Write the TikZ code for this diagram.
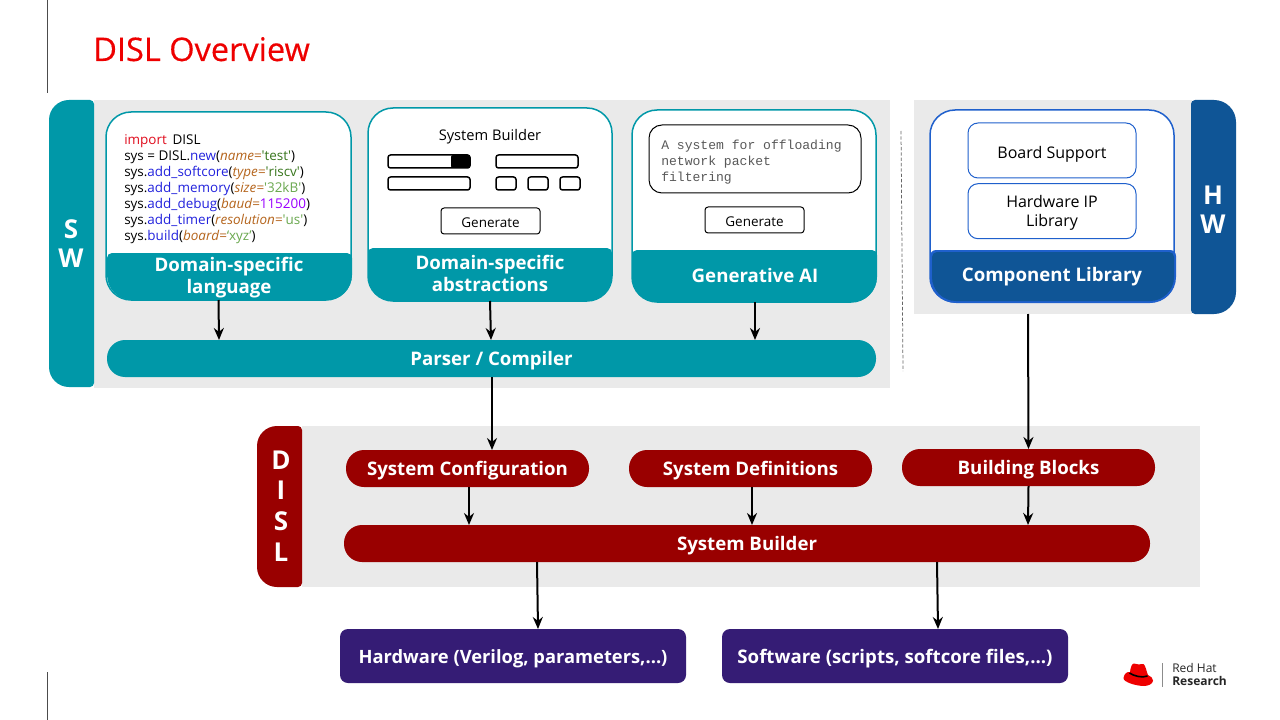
\documentclass[tikz,border=0pt]{standalone}
\usepackage{fontspec}
\setmainfont{Open Sans}
\setmonofont{Liberation Mono}
\newfontfamily\titlefont[FakeBold=0.3]{Open Sans}
\usetikzlibrary{arrows.meta}
\usetikzlibrary{positioning}
\definecolor{rhteal}{HTML}{0098A8}
\definecolor{rhblue}{HTML}{0F5596}
\definecolor{rhline}{HTML}{1F60CC}
\definecolor{rhred}{HTML}{990000}
\definecolor{rhpurple}{HTML}{351C75}
\definecolor{rhgrey}{HTML}{EAEAEA}
\definecolor{rhtitle}{HTML}{EE0000}
\definecolor{cdkey}{HTML}{E00B1C}
\definecolor{cdfun}{HTML}{2222DD}
\definecolor{cdarg}{HTML}{B5651D}
\definecolor{cdstr}{HTML}{38761D}
\definecolor{cdlit}{HTML}{6AA84F}
\definecolor{cdnum}{HTML}{9900FF}
\def\px{0.75pt}
\def\q{\textquotesingle}
\newcommand{\kw}[1]{\textcolor{cdfun}{#1}}
\newcommand{\ar}[2]{\textcolor{cdarg}{\itshape #1=}#2}
% colour, left, right, top, bottom, radius top, radius bottom
\newcommand{\bandshape}[7]{\fill[#1] ({(#2+#3)/2},#4) [rounded corners=#6*\px] -- (#3,#4)
  [rounded corners=#7*\px] -- (#3,#5) -- (#2,#5) [rounded corners=#6*\px] -- (#2,#4) -- cycle;}
\tikzset{
  boxsize/.style args={#1x#2}{minimum width=#1*\px,minimum height=#2*\px},
  base/.style={inner sep=0pt,outer sep=0pt,anchor=north west},
  panel/.style={base,fill=rhgrey},
  card/.style={base,fill=white,draw=rhteal,line width=1.5*\px,rounded corners=25*\px},
  hwcard/.style={card,draw=rhline},
  inner/.style={base,fill=white,draw=rhline,line width=1*\px,rounded corners=10*\px,
    font=\fontsize{12}{14.2}\selectfont,align=center,text depth=0pt},
  pill/.style={base,text=white,font=\fontsize{14}{16}\selectfont\bfseries,rounded corners=18*\px,
    text height=11pt,text depth=0pt},
  head/.style={text=white,inner sep=0pt,align=center,font=\fontsize{14}{16.5}\selectfont\bfseries},
  tabtext/.style={text=white,inner sep=0pt,align=center,font=\fontsize{19.5}{22}\selectfont\bfseries},
  widget/.style={base,fill=white,draw=black,line width=1.5*\px,rounded corners=2.5*\px},
  button/.style={base,fill=white,draw=black,line width=1*\px,rounded corners=3*\px,
    font=\fontsize{10.1}{12}\selectfont,text height=9.2pt,text depth=0pt},
  output/.style={pill,fill=rhpurple,rounded corners=8*\px},
  flow/.style={->,line width=2*\px},
}

\begin{document}
\begin{tikzpicture}[>={Stealth[length=9pt,width=7.5pt]},x=0.75pt,y=-0.75pt,line join=round]
\useasboundingbox (0,0) rectangle (1280,720);
\fill[white] (0,0) rectangle (1280,720);
\draw[black!70,line width=0.75*\px] (47,0) -- (47,93);
\draw[black!70,line width=0.75*\px] (47,672) -- (47,720);
\node[anchor=base west,inner sep=0pt,text=rhtitle,font=\titlefont\fontsize{24.4}{28}\selectfont] (title) at (93,61) {DISL Overview};

% software side
\node[panel,boxsize=796x288] (swpanel) at (94,100) {};
\path[fill=rhteal,rounded corners=20*\px] (94,100) [rounded corners=4*\px] -- (94,387)
  [rounded corners=20*\px] -- (49,387) -- (49,100) [rounded corners=4*\px] -- cycle;
\node[tabtext] (swtab) at (71,243.5) {S\\W};
\draw[dashed,black!60,line width=0.75*\px,dash pattern=on 2.5pt off 1.5pt] (901,131) -- (903,371);

\node[card,boxsize=245x188] (dsl) at (106,112) {};
\node[card,boxsize=244x193] (abs) at (368,108) {};
\node[card,boxsize=244x192] (genai) at (632,110) {};
\bandshape{rhteal}{107}{352}{253}{300}{5}{25}
\bandshape{rhteal}{368}{612}{248}{301}{5}{25}
\bandshape{rhteal}{632}{877}{250}{302}{5}{25}
\node[head] (dslhead) at (229,277.5) {Domain-specific\\language};
\node[head] (abshead) at (490,273.5) {Domain-specific\\abstractions};
\node[head] (genaihead) at (755,275.5) {Generative AI};

\node[anchor=north west,inner sep=0pt,align=left,font=\fontsize{10.1}{12}\selectfont] (code) at (124,134) {%
  \textcolor{cdkey}{import}\, DISL\\
  sys = DISL.\kw{new}(\ar{name}{\textcolor{cdstr}{\q test\q}})\\
  sys.\kw{add\_softcore}(\ar{type}{\textcolor{cdstr}{\q riscv\q}})\\
  sys.\kw{add\_memory}(\ar{size}{\textcolor{cdlit}{\q 32kB\q}})\\
  sys.\kw{add\_debug}(\ar{baud}{\textcolor{cdnum}{115200}})\\
  sys.\kw{add\_timer}(\ar{resolution}{\textcolor{cdlit}{\q us\q}})\\
  sys.\kw{build}(\ar{board}{\textcolor{cdlit}{‘xyz’}})};

\node[inner sep=0pt,font=\fontsize{11}{12}\selectfont] (builder) at (490,136.5) {System Builder};
\node[widget,boxsize=82x13] (slider) at (388,155) {};
\fill[black,rounded corners=2*\px] (451,155) rectangle (470,168);
\node[widget,boxsize=82x13] (field1) at (496,155) {};
\node[widget,boxsize=82x13] (field2) at (388,177) {};
\foreach \n/\xx in {a/496,b/528,c/560}
  \node[widget,boxsize=20x13] (check\n) at (\xx,177) {};
\node[button,boxsize=99x26] (gen1) at (441,208) {Generate};

\node[base,fill=white,draw=black,line width=1*\px,rounded corners=13*\px,boxsize=212x68] (prompt) at (649,125) {};
\node[anchor=north west,inner sep=0pt,align=left,text=black!65,font=\ttfamily\fontsize{9.8}{12}\selectfont] (prompttext) at (661,139.5) {A system for offloading\\network packet\\filtering};
\node[button,boxsize=99x26] (gen2) at (705,207) {Generate};

\node[pill,fill=rhteal,boxsize=769x37] (parser) at (107,340) {Parser / Compiler};

% hardware side
\node[panel,boxsize=278x214] (hwpanel) at (914,100) {};
\path[fill=rhblue,rounded corners=4*\px] (1191,100) [rounded corners=22*\px] -- (1236,100) -- (1236,314)
  [rounded corners=4*\px] -- (1191,314) -- cycle;
\node[tabtext] (hwtab) at (1213,209.5) {H\\W};
\node[hwcard,boxsize=244x192] (hwlib) at (930,110) {};
\bandshape{rhline}{930}{1176}{250}{303}{6}{26}
\bandshape{rhblue}{932}{1174}{252}{301}{5}{24}
\node[head] (hwhead) at (1052,277) {Component Library};
\node[inner,boxsize=168x55,text height=12pt] (board) at (968,123) {Board Support};
\node[inner,boxsize=168x55] (iplib) at (968,183.7) {Hardware IP\\Library};

% DISL side
\node[panel,boxsize=898x161] (dislpanel) at (302,426) {};
\path[fill=rhred,rounded corners=4*\px] (302,426) [rounded corners=4*\px] -- (302,587)
  [rounded corners=20*\px] -- (257,587) -- (257,426) [rounded corners=4*\px] -- cycle;
\node[tabtext,font=\fontsize{19.5}{23}\selectfont\bfseries] (disltab) at (281,506) {D\\I\\S\\L};
\node[pill,fill=rhred,boxsize=243x37] (config) at (346,450) {System Configuration};
\node[pill,fill=rhred,boxsize=243x37] (defs) at (629,450) {System Definitions};
\node[pill,fill=rhred,boxsize=253x37] (blocks) at (902,449) {Building Blocks};
\node[pill,fill=rhred,boxsize=806x37] (sysb) at (344,525) {System Builder};

\node[output,boxsize=346x54,font=\fontsize{13.75}{16}\selectfont\bfseries] (hwout) at (340,629) {Hardware (Verilog, parameters,...)};
\node[output,boxsize=346x54] (swout) at (722,629) {Software (scripts, softcore files,...)};

% connectors
\draw[flow] ([xshift=-10*\px]dsl.south) -- ([xshift=-272.5*\px]parser.north);
\draw[flow] (abs.south) -- ([xshift=-0.5*\px]parser.north);
\draw[flow] ([xshift=1*\px]genai.south) -- ([xshift=263.5*\px]parser.north);
\draw[flow] ([xshift=0.5*\px]parser.south) -- ([xshift=24.5*\px]config.north);
\draw[flow] ([xshift=-25*\px]hwpanel.south) -- (blocks.north);
\draw[flow] ([xshift=1.5*\px]config.south) -- ([xshift=-278*\px]sysb.north);
\draw[flow] ([xshift=1.5*\px]defs.south) -- ([xshift=5*\px]sysb.north);
\draw[flow] (blocks.south) -- ([xshift=281*\px]sysb.north);
\draw[flow] ([xshift=-210*\px]sysb.south) -- ([xshift=25*\px]hwout.north);
\draw[flow] ([xshift=190*\px]sysb.south) -- ([xshift=43*\px]swout.north);

% logo
\fill[rhtitle] (1123.5,678) .. controls (1124,673) and (1128,671.5) .. (1130,672)
  .. controls (1130.5,667) and (1132,663.5) .. (1134,663.5)
  .. controls (1136,663.5) and (1137,664.5) .. (1139,664.5)
  .. controls (1141,664.5) and (1142,663.5) .. (1143.5,664)
  .. controls (1145.5,665) and (1146.5,672) .. (1148,675)
  .. controls (1151,676.5) and (1153,678) .. (1153,680.5)
  .. controls (1153,684) and (1148,686) .. (1144,686)
  .. controls (1136,686) and (1123,682) .. (1123.5,678) -- cycle;
\draw[black,line width=1.6*\px] (1129.5,673) .. controls (1133,675.5) and (1142,678.5) .. (1147.5,676);
\draw[black!45,line width=1*\px] (1162.5,663) -- (1162.5,687);
\node[anchor=north west,inner sep=0pt,align=left,text=black!85,font=\fontsize{9}{10}\selectfont] (logotext) at (1172,663) {Red Hat\\\textbf{Research}};
\end{tikzpicture}
\end{document}
